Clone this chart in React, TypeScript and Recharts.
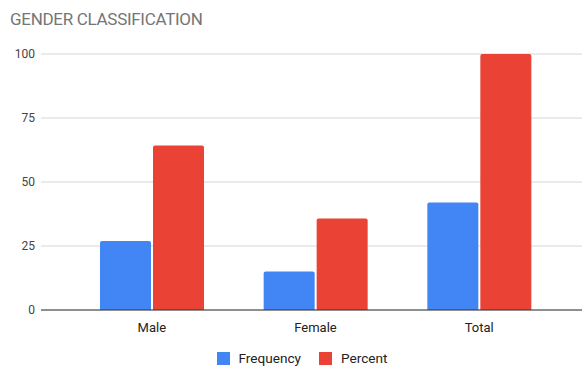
import React from "react";
import { BarChart, Bar, XAxis, YAxis, CartesianGrid, Legend } from "recharts";

const categories = ["Male", "Female", "Total"];
const frequency = [27, 15, 42];
const percent = [64.3, 35.7, 100];
const yTicks = [0, 25, 50, 75, 100];

const BLUE = "#4285F4";
const RED = "#EA4335";
const FONT = "Roboto, 'Noto Sans', Arial, sans-serif";

const data = categories.map((name, i) => ({
  name,
  Frequency: frequency[i],
  Percent: percent[i],
}));

// legend with square swatches and grey labels, like the sheets chart
const renderLegend = () => (
  <div style={{ display: "flex", justifyContent: "center", alignItems: "center", gap: 18, paddingTop: 4, paddingLeft: 22, fontFamily: FONT, fontSize: 13.6, color: "#222" }}>
    {[{ label: "Frequency", color: BLUE }, { label: "Percent", color: RED }].map(item => (
      <div key={item.label} style={{ display: "flex", alignItems: "center", gap: 9 }}>
        <div style={{ width: 13, height: 13, backgroundColor: item.color }} />
        <span>{item.label}</span>
      </div>
    ))}
  </div>
);

export default function App() {
  return (
    <div style={{ position: "absolute", left: 0, top: 0, width: 582, height: 368, background: "#fff", fontFamily: FONT }}>
      <div style={{ position: "absolute", left: 10, top: 9, fontSize: 17, color: "#757575", letterSpacing: -0.3 }}>
        GENDER CLASSIFICATION
      </div>
      <BarChart
        width={582}
        height={368}
        data={data}
        margin={{ top: 54, right: 0, left: 0, bottom: 2 }}
        barGap={2}
        barSize={51}
      >
        <CartesianGrid vertical={false} stroke="#d6d6d6" />
        <XAxis
          dataKey="name"
          height={36}
          padding={{ left: 29, right: 21 }}
          axisLine={{ stroke: "#333" }}
          tickLine={false}
          tickSize={0}
          tickMargin={13}
          tick={{ fill: "#222", fontSize: 13, fontFamily: FONT }}
        />
        <YAxis
          width={41}
          domain={[0, 100]}
          ticks={yTicks}
          axisLine={false}
          tickLine={false}
          tickSize={0}
          tickMargin={6}
          tick={{ fill: "#444", fontSize: 12, fontFamily: FONT }}
        />
        <Legend verticalAlign="bottom" height={20} content={renderLegend} />
        <Bar dataKey="Frequency" fill={BLUE} radius={[2, 2, 0, 0]} isAnimationActive={false} />
        <Bar dataKey="Percent" fill={RED} radius={[2, 2, 0, 0]} isAnimationActive={false} />
      </BarChart>
    </div>
  );
}
